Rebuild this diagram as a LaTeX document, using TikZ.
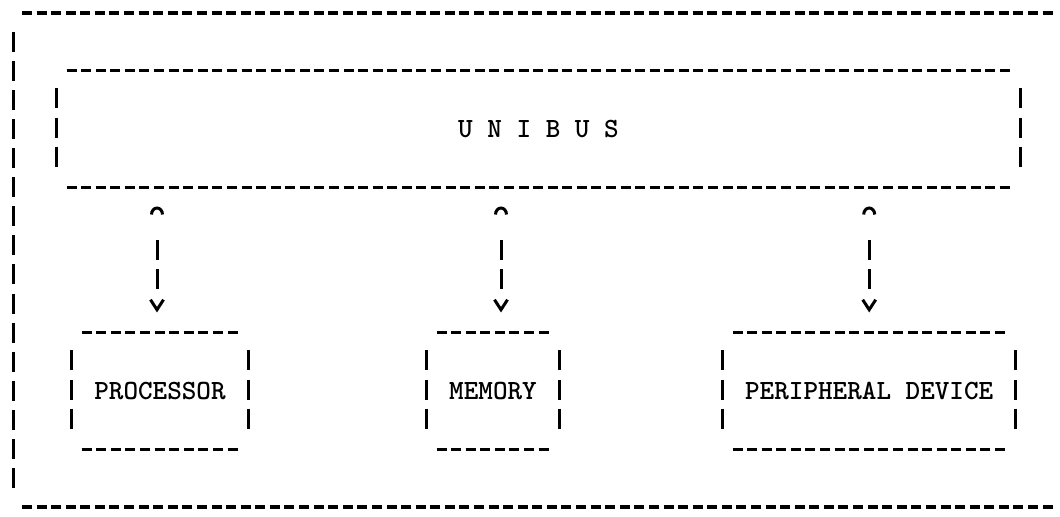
\documentclass[tikz,border=0pt]{standalone}
\usepackage{fontspec}
\newfontfamily\maquina{lmmonolt10-bold.otf}
\usetikzlibrary{arrows.meta,calc}
\begin{document}
\begin{tikzpicture}[x=0.5pt, y=-0.5pt,
    hdash/.style={line width=1.6pt, dash pattern=on 5pt off 2.29pt},
    vdash/.style={line width=1.5pt, dash pattern=on 10pt off 4.53pt},
    caixa/.style={inner sep=0pt, minimum height=58.12pt, font=\fontsize{13.9}{14}\selectfont\maquina},
    link/.style={line width=1.5pt, dash pattern=on 0pt off 16pt on 10pt off 4.5pt on 10pt off 20pt,
        shorten <=9.5pt, shorten >=10pt,
        {Arc Barb[length=4pt,width=7pt]}-{Straight Barb[length=5pt,width=6.5pt]}}]
    \useasboundingbox (0,0) rectangle (1060,517);

    % Moldura externa
    \draw[hdash] (22,13) -- (1052.6,13);
    \draw[vdash] (13,32) -- (13,488);
    \draw[hdash] (22,507) -- (1052.6,507);

    % Barramento
    \node[caixa, minimum width=471.55pt] (unibus) at (538.5,129) {U N I B U S};

    % Dispositivos
    \node[caixa, minimum width=77.9pt] (proc) at (160,391) {PROCESSOR};
    \node[caixa, minimum width=56.03pt] (mem) at (493,391) {MEMORY};
    \node[caixa, minimum width=136.22pt] (per) at (869.2,391) {PERIPHERAL DEVICE};

    % Bordas das caixas
    \foreach \b in {unibus, proc, mem, per} {
        \draw[hdash] (\b.north west) -- (\b.north east);
        \draw[hdash] (\b.south west) -- (\b.south east);
        \draw[vdash] ([xshift=-5pt, yshift=-9pt]\b.north west) -- ([xshift=-5pt, yshift=10pt]\b.south west);
        \draw[vdash] ([xshift=5pt, yshift=-9pt]\b.north east) -- ([xshift=5pt, yshift=10pt]\b.south east);
    }

    % Ligacoes com o barramento
    \foreach \b/\dx in {proc/-1.5pt, mem/4pt, per/0pt}
        \draw[link] ($(\b.north |- unibus.south)+(\dx,0)$) -- ($(\b.north)+(\dx,0)$);
\end{tikzpicture}
\end{document}
